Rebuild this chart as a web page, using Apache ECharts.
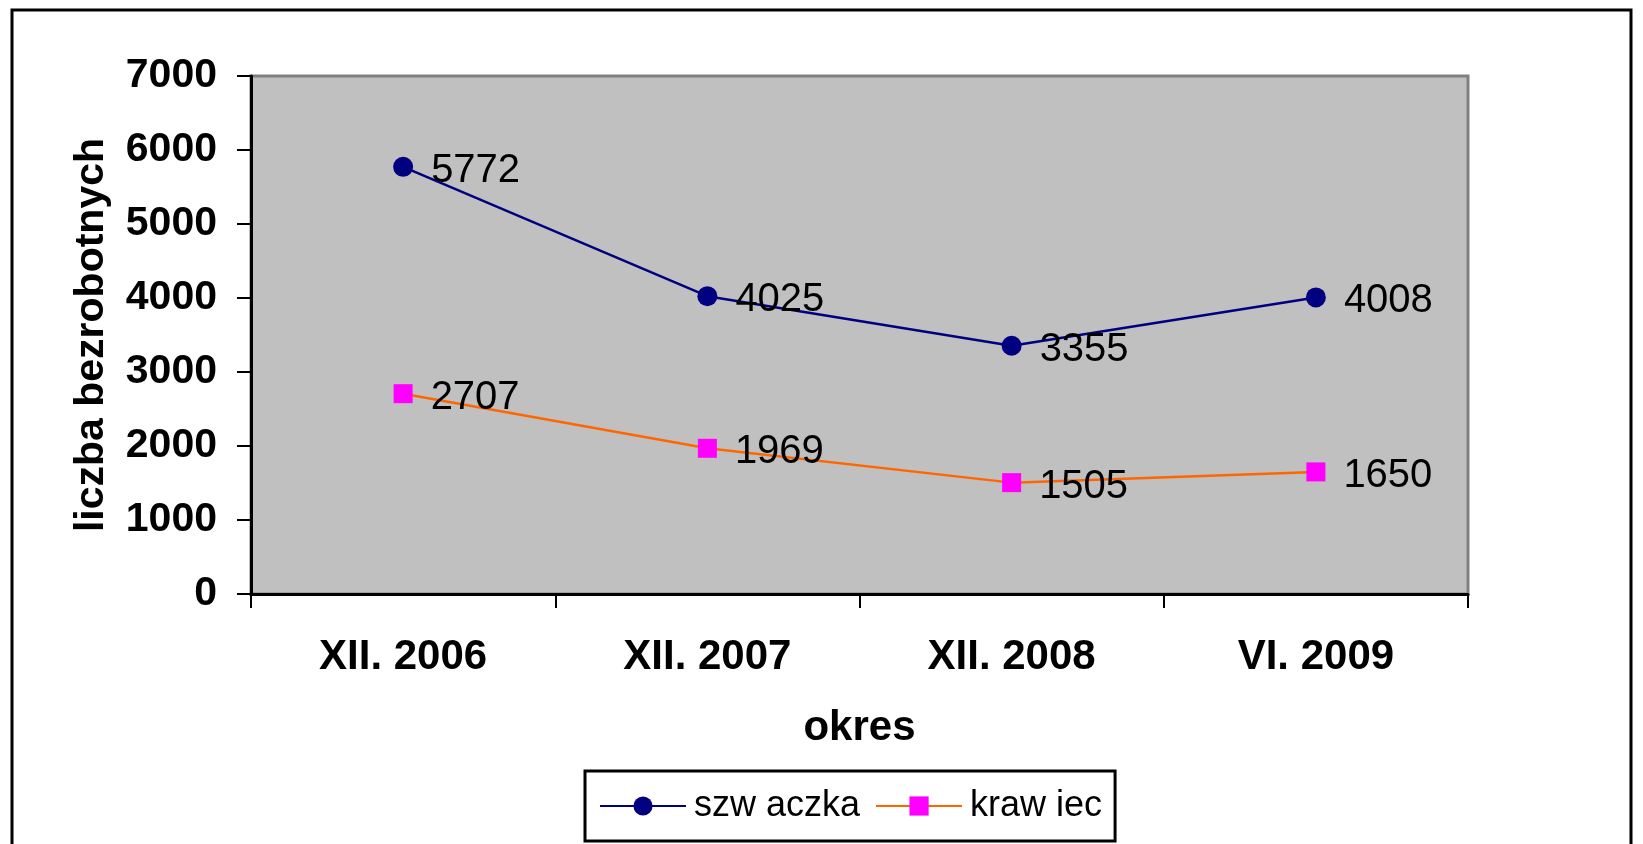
<!DOCTYPE html>
<html>
<head>
<meta charset="utf-8">
<script src="https://cdn.jsdelivr.net/npm/echarts@6/dist/echarts.min.js"></script>
<style>
html,body{margin:0;padding:0;background:#fff;}
#chart{width:1643px;height:844px;}
</style>
</head>
<body>
<div id="chart"></div>
<script>
const categories = ['XII. 2006', 'XII. 2007', 'XII. 2008', 'VI. 2009'];
const szwaczka = [5772, 4025, 3355, 4008];
const krawiec = [2707, 1969, 1505, 1650];
const seriesNames = ['szw aczka', 'kraw iec'];
const yTitle = 'liczba bezrobotnych';
const xTitle = 'okres';

const FONT = '"Liberation Sans", Arial, sans-serif';
const chart = echarts.init(document.getElementById('chart'), null, {renderer: 'canvas'});

chart.setOption({
  backgroundColor: '#ffffff',
  animation: false,
  graphic: [{
    type: 'rect',
    shape: {x: 12, y: 10, width: 1619, height: 900},
    style: {fill: 'none', stroke: '#000', lineWidth: 3},
    z: 100
  }],
  grid: {
    left: 251, top: 76, width: 1217, height: 518,
    show: true, backgroundColor: '#C0C0C0', borderColor: '#808080', borderWidth: 3
  },
  legend: {
    left: 585, top: 771,
    padding: [17, 13, 17, 14],
    itemGap: 15,
    itemWidth: 86, itemHeight: 24,
    borderColor: '#000', borderWidth: 3,
    backgroundColor: '#fff',
    textStyle: {fontFamily: FONT, fontSize: 36, lineHeight: 26, color: '#000', padding: [0, 0, 0, 3]},
    data: seriesNames
  },
  xAxis: {
    type: 'category',
    data: categories,
    boundaryGap: true,
    name: xTitle,
    nameLocation: 'middle',
    nameGap: 113,
    nameTextStyle: {fontFamily: FONT, fontSize: 42, fontWeight: 'bold', color: '#000'},
    axisLine: {lineStyle: {color: '#000', width: 3}},
    axisTick: {show: true, length: 14, lineStyle: {color: '#000', width: 2}},
    axisLabel: {fontFamily: FONT, fontSize: 42, fontWeight: 'bold', color: '#000', margin: 42}
  },
  yAxis: {
    type: 'value',
    min: 0, max: 7000, interval: 1000,
    name: yTitle,
    nameLocation: 'middle',
    nameGap: 139,
    nameRotate: 90,
    nameTextStyle: {fontFamily: FONT, fontSize: 41, fontWeight: 'bold', color: '#000'},
    splitLine: {show: false},
    axisLine: {show: true, lineStyle: {color: '#000', width: 3}},
    axisTick: {show: true, length: 14, lineStyle: {color: '#000', width: 2}},
    axisLabel: {fontFamily: FONT, fontSize: 41, fontWeight: 'bold', color: '#000', margin: 34,
      formatter: function (v) { return String(v); }}
  },
  series: [{
    name: seriesNames[0],
    type: 'line',
    data: szwaczka,
    symbol: 'circle',
    symbolSize: 20,
    itemStyle: {color: '#000080'},
    lineStyle: {color: '#000080', width: 2.5},
    label: {show: true, position: 'right', distance: 18, offset: [0, 4],
      fontFamily: FONT, fontSize: 40, color: '#000'}
  }, {
    name: seriesNames[1],
    type: 'line',
    data: krawiec,
    symbol: 'rect',
    symbolSize: 19,
    itemStyle: {color: '#FF00FF'},
    lineStyle: {color: '#FF6600', width: 2.5},
    label: {show: true, position: 'right', distance: 18, offset: [0, 4],
      fontFamily: FONT, fontSize: 40, color: '#000'}
  }]
});
</script>
</body>
</html>
